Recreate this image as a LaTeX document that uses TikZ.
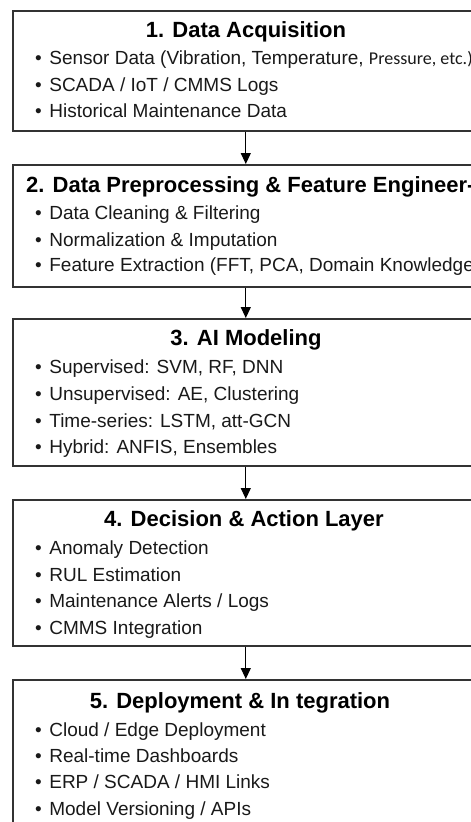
\documentclass[tikz,border=0pt]{standalone}
\usepackage{fontspec}
\setmainfont{Liberation Sans}
\newfontfamily\carl{Carlito}
\usetikzlibrary{arrows.meta}
\newcommand{\bul}{•\hspace{7.5pt}}
\begin{document}
\begin{tikzpicture}[x=1pt,y=-1pt,
  box/.style={draw=black!80, line width=1.6pt, inner sep=0pt, anchor=north west, minimum width=466pt},
  ttl/.style={anchor=base, inner sep=0pt, font=\bfseries\fontsize{22}{26}\selectfont, text=black},
  itm/.style={anchor=base west, inner sep=0pt, font=\fontsize{19}{23}\selectfont, text=black!90},
  conn/.style={line width=1.2pt, black, -{Triangle[length=11pt,width=10pt]}}]
\useasboundingbox (0,0) rectangle (471,822);
\clip (0,0) rectangle (471,822);
% boxes
\node[box, minimum height=120pt] (b1) at (12,10) {};
\node[box, minimum height=122pt] (b2) at (12,164) {};
\node[box, minimum height=147pt] (b3) at (12,318) {};
\node[box, minimum height=146pt] (b4) at (12,499) {};
\node[box, minimum height=170pt] (b5) at (12,679) {};
% connectors
\draw[conn] (b1.south) -- (b2.north);
\draw[conn] (b2.south) -- (b3.north);
\draw[conn] (b3.south) -- (b4.north);
\draw[conn] (b4.south) -- (b5.north);
% box 1
\node[ttl] (t1) at (246,37) {1. Data Acquisition};
\node[itm] (i11) at (35,64) {\bul Sensor Data (Vibration, Temperature, {\carl\fontsize{18}{22}\selectfont Pressure, etc.)}};
\node[itm] (i12) at (35,91) {\bul SCADA / IoT / CMMS Logs};
\node[itm] (i13) at (35,117) {\bul Historical Maintenance Data};
% box 2
\node[ttl, anchor=base west] (t2) at (26,192) {2. Data Preprocessing \& Feature Engineer-};
\node[itm] (i21) at (35,219) {\bul Data Cleaning \& Filtering};
\node[itm] (i22) at (35,246) {\bul Normalization \& Imputation};
\node[itm] (i23) at (35,271) {\bul Feature Extraction (FFT, PCA, Domain Knowledge)};
% box 3
\node[ttl] (t3) at (246,345) {3. AI Modeling};
\node[itm] (i31) at (35,373) {\bul Supervised: SVM, RF, DNN};
\node[itm] (i32) at (35,400) {\bul Unsupervised: AE, Clustering};
\node[itm] (i33) at (35,427) {\bul Time-series: LSTM, att-GCN};
\node[itm] (i34) at (35,453) {\bul Hybrid: ANFIS, Ensembles};
% box 4
\node[ttl] (t4) at (244,526) {4. Decision \& Action Layer};
\node[itm] (i41) at (35,554) {\bul Anomaly Detection};
\node[itm] (i42) at (35,581) {\bul RUL Estimation};
\node[itm] (i43) at (35,607) {\bul Maintenance Alerts / Logs};
\node[itm] (i44) at (35,634) {\bul CMMS Integration};
% box 5
\node[ttl] (t5) at (240,708) {5. Deployment \& In tegration};
\node[itm] (i51) at (35,736) {\bul Cloud / Edge Deployment};
\node[itm] (i52) at (35,762) {\bul Real-time Dashboards};
\node[itm] (i53) at (35,788) {\bul ERP / SCADA / HMI Links};
\node[itm] (i54) at (35,815) {\bul Model Versioning / APIs};
\end{tikzpicture}
\end{document}
